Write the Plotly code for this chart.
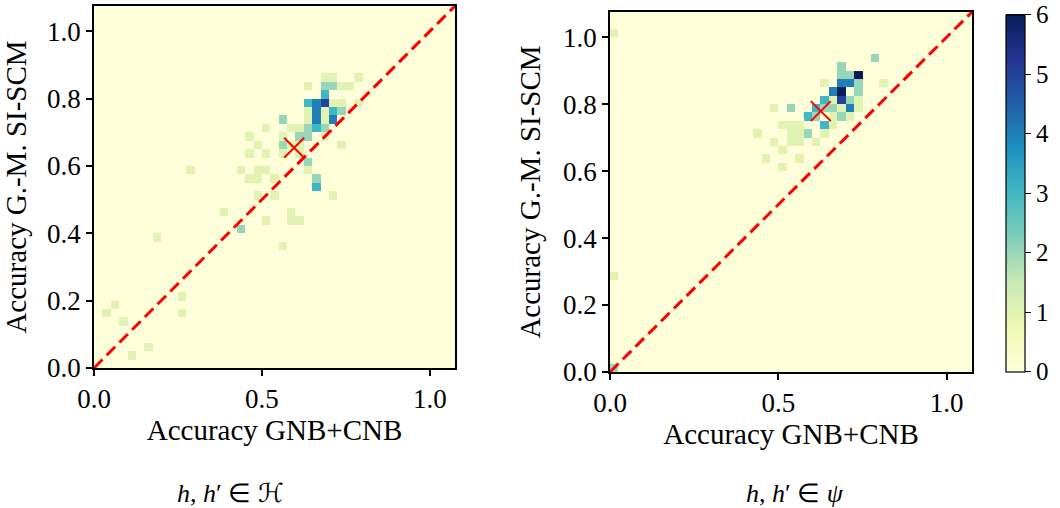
import numpy as np
import plotly.graph_objects as go

# ---------------- data ----------------
BIN = 0.025
NBINS = 43
AX_MAX = NBINS * BIN  # 1.075

# Left panel (h, h' in H): histogram bin indices (x col, y row) and counts
left_ix = [27, 28, 31,
           25, 27, 28, 29, 30,
           27,
           25, 26, 27, 28, 29, 31,
           25, 26, 27, 28, 29,
           22, 25, 26, 27, 28,
           20, 23, 24, 25, 26, 27,
           18, 22, 24, 25, 27,
           19, 22, 23, 24, 29,
           18, 20, 22, 24,
           25,
           11, 17, 19, 20, 25,
           18, 19, 21, 26,
           26,
           19, 21, 28,
           15, 23,
           20, 23, 24,
           17,
           7,
           22,
           10,
           2,
           1, 10,
           3,
           6,
           4]
left_iy = [34, 34, 34,
           33, 33, 33, 33, 33,
           32,
           31, 31, 31, 31, 31, 31,
           30, 30, 30, 30, 30,
           29, 29, 29, 29, 29,
           28, 28, 28, 28, 28, 28,
           27, 27, 27, 27, 27,
           26, 26, 26, 26, 26,
           25, 25, 25, 25,
           24,
           23, 23, 23, 23, 23,
           22, 22, 22, 22,
           21,
           20, 20, 20,
           18, 18,
           17, 17, 17,
           16,
           15,
           14,
           8,
           7,
           6, 6,
           5,
           2,
           1]
left_n = [1, 1, 1,
          1, 2, 2, 1, 1,
          3,
          3, 4, 5, 1, 1, 1,
          1, 4, 1, 3, 2,
          2, 1, 4, 1, 4,
          1, 1, 1, 2, 3, 2,
          1, 1, 2, 2, 1,
          1, 2, 1, 1, 1,
          1, 1, 1, 1,
          2,
          1, 1, 1, 1, 1,
          1, 1, 1, 2,
          3,
          1, 1, 1,
          1, 1,
          1, 1, 1,
          2,
          1,
          1,
          1,
          1,
          1, 1,
          1,
          1,
          1]

# Right panel (h, h' in psi)
right_ix = [31,
            27,
            27, 28, 29,
            25, 27, 28, 29, 32,
            26, 27, 29,
            25, 26, 27, 28, 29,
            19, 21, 24, 25, 26, 27, 28, 29,
            23, 24, 26, 27, 28,
            20, 21, 22, 25, 26,
            17, 21, 22, 23, 25,
            19, 21, 22, 24,
            20,
            18, 22,
            20,
            0, 0, 0]
right_iy = [37,
            36,
            35, 35, 35,
            34, 34, 34, 34, 34,
            33, 33, 33,
            32, 32, 32, 32, 32,
            31, 31, 31, 31, 31, 31, 31, 31,
            30, 30, 30, 30, 30,
            29, 29, 29, 29, 29,
            28, 28, 28, 28, 28,
            27, 27, 27, 27,
            26,
            25, 25,
            24,
            40, 11, 0]
right_n = [2,
           2,
           2, 2, 6,
           1, 4, 4, 2, 1,
           4, 6, 2,
           3, 1, 5, 2, 1,
           1, 2, 3, 2, 2, 1, 4, 1,
           3, 2, 1, 2, 1,
           1, 1, 1, 3, 1,
           1, 1, 1, 2, 1,
           1, 1, 1, 1,
           1,
           1, 1,
           1,
           1, 1, 2]

# mean markers (x, y)
left_mean = (0.596, 0.654)
right_mean = (0.626, 0.779)

subtitles = ["<i>h</i>, <i>h</i>\u2032 \u2208 \u210B", "<i>h</i>, <i>h</i>\u2032 \u2208 <i>\u03C8</i>"]
x_title = "Accuracy GNB+CNB"
y_title = "Accuracy G.-M. SI-SCM"
cbar_ticks = [0, 1, 2, 3, 4, 5, 6]

# ---------------- figure ----------------
ylgnbu = ["#ffffd9", "#edf8b1", "#c7e9b4", "#7fcdbb", "#41b6c4",
          "#1d91c0", "#225ea8", "#253494", "#081d58"]
cscale = [[i / (len(ylgnbu) - 1), c] for i, c in enumerate(ylgnbu)]

centers = (np.arange(NBINS) + 0.5) * BIN


def grid(ix, iy, n):
    z = np.zeros((NBINS, NBINS))
    for a, b, c in zip(ix, iy, n):
        z[b, a] += c
    return z


FONT = "Liberation Serif"
TICK_SIZE = 27
TITLE_SIZE = 29
fig = go.Figure()

fig.add_trace(go.Heatmap(x=centers, y=centers, z=grid(left_ix, left_iy, left_n),
                         colorscale=cscale, zmin=0, zmax=6, showscale=False,
                         xaxis="x", yaxis="y", hoverinfo="skip"))
fig.add_trace(go.Heatmap(x=centers, y=centers, z=grid(right_ix, right_iy, right_n),
                         colorscale=cscale, zmin=0, zmax=6, showscale=True,
                         xaxis="x2", yaxis="y2", hoverinfo="skip",
                         colorbar=dict(thickness=19, len=357, lenmode="pixels",
                                       x=1006 / 1060, xanchor="left", xpad=0, ypad=0,
                                       y=1 - 193 / 508, yanchor="middle",
                                       outlinecolor="black", outlinewidth=1.2,
                                       ticks="outside", ticklen=6, tickwidth=1.2,
                                       tickcolor="black", tickvals=cbar_ticks,
                                       ticklabeloverflow="allow",
                                       tickfont=dict(family=FONT, size=25, color="black"))))

for xa, ya, m in [("x", "y", left_mean), ("x2", "y2", right_mean)]:
    fig.add_trace(go.Scatter(x=[0, AX_MAX], y=[0, AX_MAX], mode="lines",
                             line=dict(color="red", width=3, dash="12px,6px"),
                             xaxis=xa, yaxis=ya, showlegend=False, hoverinfo="skip"))
    fig.add_trace(go.Scatter(x=[m[0]], y=[m[1]], mode="markers",
                             marker=dict(symbol="x-thin", size=20, color="red",
                                         line=dict(color="red", width=2)),
                             xaxis=xa, yaxis=ya, showlegend=False, hoverinfo="skip"))

axis_common = dict(range=[0, AX_MAX], showgrid=False, zeroline=False, automargin=False,
                   showline=True, mirror=True, linecolor="black", linewidth=1.5,
                   ticks="outside", ticklen=6, tickwidth=1.5, tickcolor="black",
                   tickfont=dict(family=FONT, size=TICK_SIZE, color="black"))
xtick = dict(tickvals=[0, 0.5, 1.0], ticktext=["0.0", "0.5", "1.0"])
ytick = dict(tickvals=[0, 0.2, 0.4, 0.6, 0.8, 1.0],
             ticktext=["0.0", "0.2", "0.4", "0.6", "0.8", "1.0"])
xt = dict(text=x_title, font=dict(family=FONT, size=TITLE_SIZE, color="black"), standoff=4)
yt = dict(text=y_title, font=dict(family=FONT, size=TITLE_SIZE, color="black"), standoff=14)

fig.update_layout(
    width=1060, height=508, margin=dict(l=0, r=0, t=0, b=0, autoexpand=False),
    paper_bgcolor="white", plot_bgcolor="white", showlegend=False,
    xaxis=dict(domain=[94 / 1060, 455 / 1060], anchor="y", title=xt, **xtick, **axis_common),
    yaxis=dict(domain=[1 - 368 / 508, 1 - 6 / 508], anchor="x", title=yt, **ytick, **axis_common),
    xaxis2=dict(domain=[610 / 1060, 972 / 1060], anchor="y2", title=xt, **xtick, **axis_common),
    yaxis2=dict(domain=[1 - 372 / 508, 1 - 12 / 508], anchor="x2", title=yt, **ytick, **axis_common),
    annotations=[
        dict(text=subtitles[0], x=230 / 1060, y=1 - 493 / 508, xref="paper", yref="paper",
             xanchor="center", yanchor="middle",
             showarrow=False, font=dict(family=FONT, size=26, color="black")),
        dict(text=subtitles[1], x=795 / 1060, y=1 - 493 / 508, xref="paper", yref="paper",
             xanchor="center", yanchor="middle",
             showarrow=False, font=dict(family=FONT, size=26, color="black")),
    ],
)

fig.write_html("out.html")
